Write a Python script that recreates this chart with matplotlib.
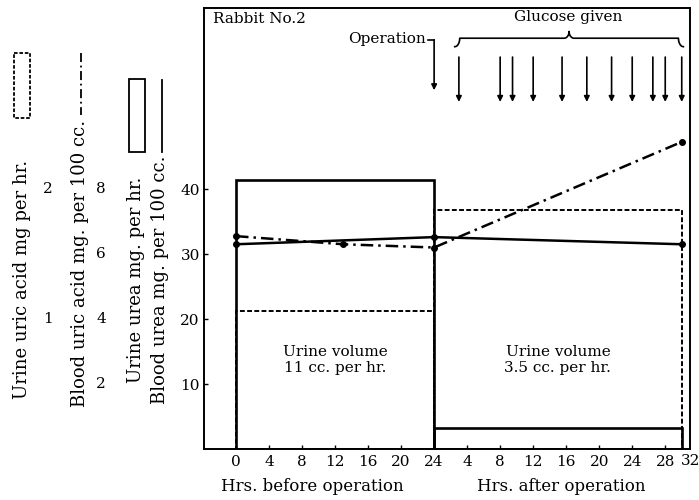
import matplotlib
matplotlib.use('Agg')
import matplotlib.pyplot as plt
from matplotlib import transforms
from matplotlib.patches import Rectangle
import numpy as np

plt.rcParams['font.family'] = 'DejaVu Serif'

# time axis: hours 0-24 before the operation, then 24 + hours after it
period_start = [0, 24]
period_len = [24, 30]
urine_urea = [41.4, 3.3]        # mg per hr
urine_uric = [1.06, 1.84]       # mg per hr
volume_text = ['Urine volume\n11 cc. per hr.', 'Urine volume\n3.5 cc. per hr.']

blood_urea_t = [0, 24, 54]
blood_urea = [31.5, 32.6, 31.5]         # mg per 100 cc
blood_uric_t = [0, 13, 24, 54]
blood_uric = [6.55, 6.3, 6.2, 9.45]     # mg per 100 cc

glucose_after = [3, 8, 9.5, 12, 15.5, 18.5, 21.5, 24, 26.5, 28, 30]

xticks = [0, 4, 8, 12, 16, 20, 24, 28, 32, 36, 40, 44, 48, 52]
xlabels = ['0', '4', '8', '12', '16', '20', '24', '4', '8', '12', '16', '20', '24', '28']
urea_ticks = [10, 20, 30, 40]
blood_uric_ticks = [2, 4, 6, 8]     # x5 on the urea scale
urine_uric_ticks = [1, 2]           # x20 on the urea scale

fig = plt.figure(figsize=(6.99, 5), dpi=100)
ax = fig.add_axes([204 / 699, 51 / 500, 486 / 699, 441 / 500])
ax.set_xlim(-3.88, 55.0)
ax.set_ylim(0, 67.85)
for s in ax.spines.values():
    s.set_linewidth(1.4)

# urine bars
ax.bar(period_start, np.array(urine_uric) * 20, width=period_len, align='edge',
       fill=False, edgecolor='k', lw=1.4, ls=(0, (2.5, 1.2)))
ax.bar(period_start, urine_urea, width=period_len, align='edge',
       fill=False, edgecolor='k', lw=1.9)

# blood lines
ax.plot(blood_urea_t, blood_urea, color='k', lw=1.8, marker='o', ms=4)
ax.plot(blood_uric_t, np.array(blood_uric) * 5, color='k', lw=1.8,
        dashes=(5, 2, 1, 2), marker='o', ms=4)

for x0, w, t in zip(period_start, period_len, volume_text):
    ax.text(x0 + w / 2, 13.7, t, ha='center', va='center', fontsize=11,
            linespacing=1.1)

ax.set_xticks(xticks)
ax.set_xticklabels(xlabels, fontsize=11)
ax.set_yticks(urea_ticks)
ax.set_yticklabels([str(v) for v in urea_ticks], fontsize=11)
ax.tick_params(direction='in', length=3, width=1)
ax.tick_params(axis='x', pad=4)
ax.tick_params(axis='y', pad=3)

bx = transforms.blended_transform_factory(ax.transData, ax.transAxes)
ax.text(55.1, -0.012, '32', transform=bx, ha='center', va='top', fontsize=11,
        clip_on=False)
ax.text(9.3, -0.086, 'Hrs. before operation', transform=bx, ha='center',
        va='center', fontsize=12)
ax.text(39.4, -0.086, 'Hrs. after operation', transform=bx, ha='center',
        va='center', fontsize=12)

ax.text(0.018, 0.975, 'Rabbit No.2', transform=ax.transAxes, ha='left',
        va='center', fontsize=11)

# operation marker
ax.text(23.0, 63.1, 'Operation', ha='right', va='center', fontsize=11)
ax.plot([23.3, 24], [62.9, 62.9], color='k', lw=1.2)
ax.annotate('', xy=(24, 55.2), xytext=(24, 62.95),
            arrowprops=dict(arrowstyle='-|>', color='k', lw=1.2,
                            mutation_scale=8, shrinkA=0, shrinkB=0))

# glucose doses
for h in glucose_after:
    ax.annotate('', xy=(24 + h, 53.4), xytext=(24 + h, 60.3),
                arrowprops=dict(arrowstyle='-|>', color='k', lw=1.2,
                                mutation_scale=8, shrinkA=0, shrinkB=0))


def brace(x0, x1, y, h):
    xm = (x0 + x1) / 2
    t = np.linspace(0, 1, 20)
    cx = 0.6
    xs = np.concatenate([x0 + cx * np.sin(t * np.pi / 2), [xm - cx],
                         xm - cx + cx * np.sin(t * np.pi / 2)])
    ys = np.concatenate([y - h * np.cos(t * np.pi / 2), [y],
                         y + h * 0.8 * (1 - np.cos(t * np.pi / 2))])
    xs2 = 2 * xm - xs[::-1]
    ys2 = ys[::-1]
    ax.plot(np.concatenate([xs, xs2]), np.concatenate([ys, ys2]), color='k', lw=1.2)


brace(26.5, 54.2, 63.2, 1.3)
ax.text(40.2, 66.4, 'Glucose given', ha='center', va='center', fontsize=11)

# left-hand scale captions
ov = fig.add_axes([0, 0, 1, 1], zorder=-1)
ov.set_xlim(0, 699)
ov.set_ylim(500, 0)
ov.axis('off')
ov.text(22, 279, 'Urine uric acid mg per hr.', rotation=90, ha='center',
        va='center', fontsize=13)
ov.text(80, 263, 'Blood uric acid mg. per 100 cc.', rotation=90, ha='center',
        va='center', fontsize=13)
ov.text(136, 280, 'Urine urea mg. per hr.', rotation=90, ha='center',
        va='center', fontsize=13)
ov.text(160, 280, 'Blood urea mg. per 100 cc.', rotation=90, ha='center',
        va='center', fontsize=13)
ov.add_patch(Rectangle((14, 53), 16, 65, fill=False, lw=1.3, ls=(0, (2, 1))))
ov.plot([81, 81], [53, 115], color='k', lw=1.3, dashes=(5, 2, 1, 2))
ov.add_patch(Rectangle((129, 79), 16, 73, fill=False, lw=1.3))
ov.plot([162, 162], [80, 152], color='k', lw=1.3)

sc = transforms.blended_transform_factory(ov.transData, ax.transData)
for v in urine_uric_ticks:
    ov.text(48, v * 20, str(v), transform=sc, ha='center', va='center', fontsize=11)
for v in blood_uric_ticks:
    ov.text(101, v * 5, str(v), transform=sc, ha='center', va='center', fontsize=11)

fig.savefig('out.png', dpi=100)
